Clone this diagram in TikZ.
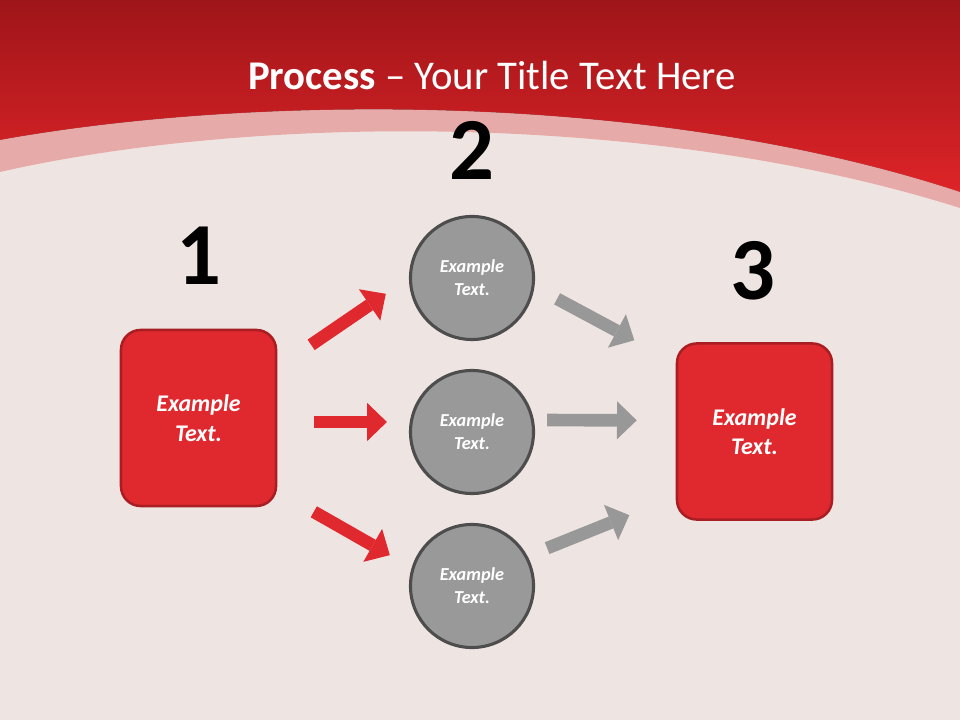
\documentclass[tikz,border=0pt]{standalone}
\usepackage{fontspec}
\setmainfont{Carlito}
\usepackage{tikz}
\usetikzlibrary{positioning}
\usetikzlibrary{calc}
\usetikzlibrary{arrows.meta}
\usepackage{xcolor}

\definecolor{paper}{RGB}{238,229,226}
\definecolor{headtop}{RGB}{158,21,25}
\definecolor{headbot}{RGB}{222,36,40}
\definecolor{band}{RGB}{229,160,160}
\definecolor{boxred}{RGB}{224,41,46}
\definecolor{boxedge}{RGB}{168,30,34}
\definecolor{circfill}{RGB}{153,153,153}
\definecolor{circedge}{RGB}{77,77,77}
\definecolor{arrowgrey}{RGB}{152,152,152}

\tikzset{
    redbox/.style={draw=boxedge, line width=1.8pt, fill=boxred, rounded corners=14pt,
        minimum width=3.875cm, minimum height=4.4cm, text=white, align=center,
        font=\fontsize{17}{21}\selectfont\bfseries\itshape},
    greycircle/.style={circle, draw=circedge, line width=2.2pt, fill=circfill,
        minimum size=3.075cm, text=white, align=center,
        font=\fontsize{13}{16.5}\selectfont\bfseries\itshape},
    numlabel/.style={font=\fontsize{63}{63}\selectfont\bfseries},
    redarrow/.style={draw=boxred, line width=9pt,
        -{Triangle[length=14pt, width=27pt, line width=0pt]}},
    greyarrow/.style={draw=arrowgrey, line width=9pt,
        -{Triangle[length=14pt, width=27pt, line width=0pt]}}
}

\begin{document}
\begin{tikzpicture}[x=0.025cm, y=-0.025cm]
        \useasboundingbox (0,0) rectangle (960,720);
        \fill[paper] (0,0) rectangle (960,720);
        % header and curved band
        \fill[top color=headtop, bottom color=headbot] (0,0) -- (960,0) -- (960,192)
            .. controls (650,90) and (250,95) .. (0,140) -- cycle;
        \fill[band, opacity=0.85] (0,140) .. controls (250,95) and (650,90) .. (960,192)
            -- (960,208) .. controls (650,110) and (250,115) .. (0,172) -- cycle;
        \node[text=white, font=\fontsize{29}{31}\selectfont] (title) at (492,75)
            {\textbf{Process} -- Your Title Text Here};

        % steps
        \node[redbox] (box1) at (198.5,418) {Example\\Text.};
        \node[redbox] (box3) at (754.5,431.5) {Example\\Text.};
        \foreach \n/\y in {1/278, 2/432, 3/586}
        {
            \node[greycircle] (c\n) at (472,\y) {Example\\Text.};
        }
        \node[numlabel] (num1) at (199,256) {1};
        \node[numlabel] (num2) at (472,150) {2};
        \node[numlabel] (num3) at (753,271) {3};

        % arrows
        \draw[redarrow, shorten <=1.025cm, shorten >=0.7cm] ($(box1.east)+(0,-50)$) -- (c1.west);
        \draw[redarrow, shorten <=0.925cm, shorten >=0.55cm] ($(box1.east)+(0,4)$) -- ($(c2.west)+(0,-10)$);
        \draw[redarrow, shorten <=1.05cm, shorten >=0.55cm] ($(box1.east)+(0,73)$) -- ($(c3.west)+(0,-20)$);
        \draw[greyarrow, shorten <=0.625cm, shorten >=1.175cm] ($(c1.east)+(0,9)$) -- ($(box3.west)+(0,-69)$);
        \draw[greyarrow, shorten <=0.3cm, shorten >=0.975cm] ($(c2.east)+(0,-12)$) -- ($(box3.west)+(0,-11)$);
        \draw[greyarrow, shorten <=0.325cm, shorten >=1.25cm] ($(c3.east)+(0,-33)$) -- ($(box3.west)+(0,65)$);
\end{tikzpicture}
\end{document}
